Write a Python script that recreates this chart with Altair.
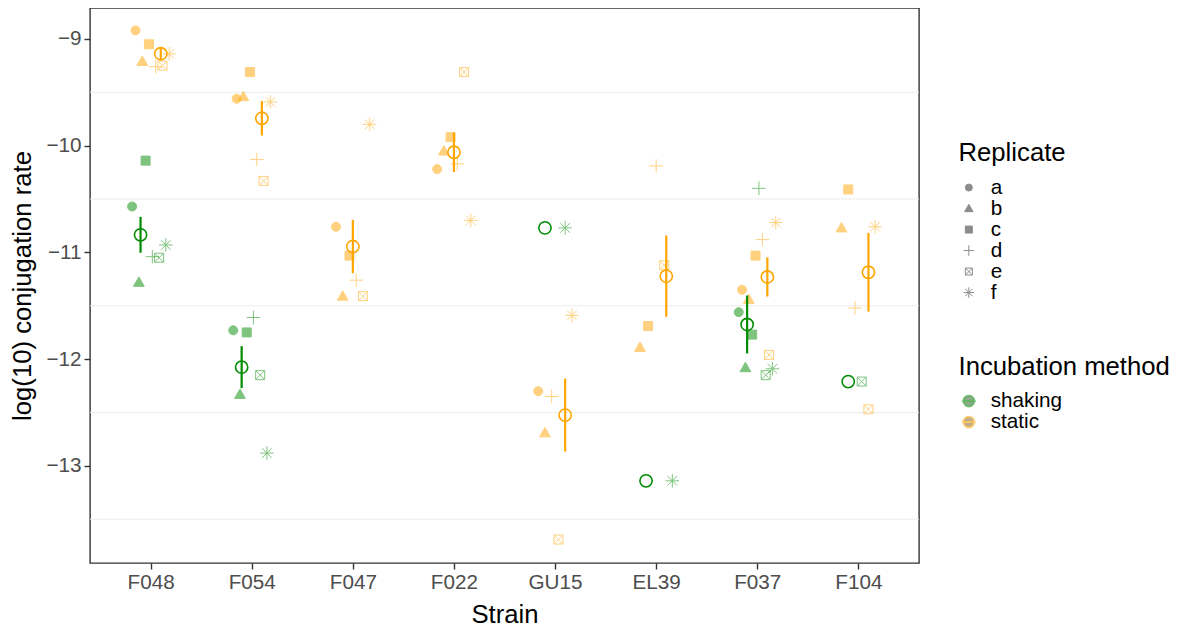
import altair as alt
import numpy as np
import pandas as pd

strains = ["F048", "F054", "F047", "F022", "GU15", "EL39", "F037", "F104"]
replicates = ["a", "b", "c", "d", "e", "f"]
methods = ["shaking", "static"]

# log10 conjugation rate per replicate, aligned with `strains` (None = no value)
shaking_a = [-10.57, -11.73, None, None, None, None, -11.56, None]
shaking_b = [-11.28, -12.33, None, None, None, None, -12.08, None]
shaking_c = [-10.14, -11.75, None, None, None, None, -11.77, None]
shaking_d = [-11.04, -11.61, None, None, None, None, -10.40, None]
shaking_e = [-11.05, -12.15, None, None, None, None, -12.15, -12.21]
shaking_f = [-10.93, -12.88, None, None, -10.77, -13.14, -12.09, None]

static_a = [-8.92, -9.56, -10.76, -10.22, -12.30, None, -11.35, None]
static_b = [-9.21, -9.54, -11.41, -10.05, -12.69, -11.89, -11.44, -10.77]
static_c = [-9.05, -9.31, -11.03, -9.92, None, -11.69, -11.03, -10.41]
static_d = [-9.26, -10.13, -11.26, -10.17, -12.35, -10.19, -10.88, -11.52]
static_e = [-9.25, -10.33, -11.41, -9.31, -13.69, -11.12, -11.96, -12.47]
static_f = [-9.14, -9.59, -9.80, -10.70, -11.59, None, -10.72, -10.76]

y_ticks = [-13, -12, -11, -10, -9]
minor_breaks = [-13.5, -12.5, -11.5, -10.5, -9.5]
y_domain = [-13.91, -8.71]

method_colors = ["#008B00", "#FFA500"]
method_light = ["#80C580", "#FFD280"]

shape_paths = [
    "circle",
    "M0,-1.2L1.2,0.9L-1.2,0.9Z",
    "M-1,-1H1V1H-1Z",
    "M-1.5,0H1.5M0,-1.5V1.5",
    "M-1,-1H1M1,-1V1M1,1H-1M-1,1V-1M-1,-1L1,1M-1,1L1,-1",
    "M-1.5,0H1.5M0,-1.5V1.5M-1.06,-1.06L1.06,1.06M-1.06,1.06L1.06,-1.06",
]

series = {
    "shaking": [shaking_a, shaking_b, shaking_c, shaking_d, shaking_e, shaking_f],
    "static": [static_a, static_b, static_c, static_d, static_e, static_f],
}
col_of = dict(zip(methods, method_colors))

rows = []
for m in methods:
    for r, vals in zip(replicates, series[m]):
        for s, v in zip(strains, vals):
            if v is not None:
                rows.append({"strain": s, "method": m, "replicate": r, "value": v})
df = pd.DataFrame(rows)
df["si"] = df["strain"].map(strains.index)
df["ri"] = df["replicate"].map(replicates.index)
df["mi"] = df["method"].map(methods.index)
df["col"] = df["method"].map(col_of)

DODGE = 0.4


def dodge_offsets(n):
    if n <= 1:
        return np.zeros(n)
    idx = np.arange(1, n + 1)
    return DODGE * ((idx - 0.5) / n - 0.5)


parts = []
for si, g in df.groupby("si"):
    g = g.sort_values(["ri", "mi"]).copy()
    g["xpos"] = si + dodge_offsets(len(g))
    parts.append(g)
pts = pd.concat(parts)

agg = (
    df.groupby(["si", "strain", "method", "mi", "col"])["value"]
    .agg(["mean", "std", "count"])
    .reset_index()
)
agg["se"] = agg["std"] / np.sqrt(agg["count"])
agg["lo"] = agg["mean"] - agg["se"]
agg["hi"] = agg["mean"] + agg["se"]
mparts = []
for si, g in agg.groupby("si"):
    g = g.sort_values("mi").copy()
    g["xm"] = si + dodge_offsets(len(g))
    mparts.append(g)
means = pd.concat(mparts)
errs = means.dropna(subset=["lo", "hi"])

FONT = "Liberation Sans"
label_expr = "[" + ",".join("'%s'" % s for s in strains) + "][datum.value]"

x_scale = alt.Scale(domain=[-0.6, len(strains) - 0.4], nice=False, zero=False)
y_scale = alt.Scale(domain=y_domain, nice=False, zero=False)

x_axis = alt.Axis(
    values=list(range(len(strains))), labelExpr=label_expr, title="Strain",
    grid=False, domain=False, tickSize=6, tickColor="#333333", tickWidth=1.4,
    labelColor="#4D4D4D", labelFontSize=20.7, labelPadding=3,
    titleFontSize=25.7, titleColor="black", titleFontWeight="normal",
    titleBaseline="alphabetic", titleY=59,
)
y_axis = alt.Axis(
    values=y_ticks, title="log(10) conjugation rate", format="d",
    grid=False, domain=False, tickSize=6, tickColor="#333333", tickWidth=1.4,
    labelColor="#4D4D4D", labelFontSize=20.7, labelPadding=3,
    titleFontSize=25.7, titleColor="black", titleFontWeight="normal",
    titleBaseline="alphabetic", titleX=-60,
)

shape_legend = alt.Legend(
    title="Replicate", orient="none", legendX=868.5, legendY=133, padding=0,
    titleFontSize=25.7, titleFontWeight="normal", titleColor="black", titlePadding=10.5,
    labelFontSize=20.7, labelColor="black", labelOffset=11.5,
    symbolSize=49, symbolFillColor="#8C8C8C", symbolStrokeColor="#8C8C8C",
    symbolStrokeWidth=1, symbolOpacity=1, symbolOffset=0, rowPadding=-1.3,
)

glyph = "M-1,0A1,1,0,1,1,1,0A1,1,0,1,1,-1,0ZM-1.25,0L1.25,0"
inc_common = dict(
    title="Incubation method", orient="none", legendX=868.5, legendY=347, padding=0,
    titleFontSize=25.7, titleFontWeight="normal", titleColor="black", titlePadding=10,
    titleLimit=400, labelLimit=300, values=methods,
    labelFontSize=20.7, labelColor="black", labelOffset=11.5,
    symbolType=glyph, symbolSize=121, symbolStrokeWidth=1.8, symbolOpacity=1,
    symbolOffset=0, rowPadding=-1.3,
)
# ring + line (full colour), drawn on top
inc_stroke_legend = alt.Legend(symbolFillColor="transparent", zindex=2, **inc_common)
# translucent fill underneath (its texts are hidden, the ring legend shows them)
inc_fill_legend = alt.Legend(
    symbolStrokeColor="transparent", zindex=1, labelOpacity=0, titleOpacity=0, **inc_common
)

grid = alt.Chart(pd.DataFrame({"v": minor_breaks})).mark_rule(
    color="#EBEBEB", strokeWidth=1.1
).encode(y=alt.Y("v:Q", scale=y_scale, axis=y_axis))

points = alt.Chart(pts).mark_point(filled=True, opacity=0.5, size=81, strokeWidth=1).encode(
    x=alt.X("xpos:Q", scale=x_scale, axis=x_axis),
    y=alt.Y("value:Q", scale=y_scale, axis=y_axis),
    shape=alt.Shape("replicate:N", scale=alt.Scale(domain=replicates, range=shape_paths), legend=shape_legend),
    fill=alt.Fill("col:N", scale=None),
    stroke=alt.Stroke("col:N", scale=None),
)

errbars = alt.Chart(errs).mark_rule(strokeWidth=2.2).encode(
    x=alt.X("xm:Q", scale=x_scale),
    y=alt.Y("lo:Q", scale=y_scale),
    y2="hi:Q",
    stroke=alt.Stroke("col:N", scale=None),
)

mean_pts = alt.Chart(means).mark_point(shape="circle", filled=False, size=150, strokeWidth=1.6, opacity=1).encode(
    x=alt.X("xm:Q", scale=x_scale),
    y=alt.Y("mean:Q", scale=y_scale),
    stroke=alt.Stroke("col:N", scale=None),
)

legend_layer = alt.Chart(pd.DataFrame({"method": methods})).transform_filter("false").mark_point(
    filled=True, opacity=1, strokeWidth=1.8
).encode(
    fill=alt.Fill(
        "method:N",
        scale=alt.Scale(domain=methods[::-1], range=method_light[::-1]),
        legend=inc_fill_legend,
    ),
    stroke=alt.Stroke(
        "method:N",
        scale=alt.Scale(domain=methods, range=method_colors),
        legend=inc_stroke_legend,
    ),
)

chart = (
    alt.layer(grid, points, errbars, mean_pts, legend_layer)
    .properties(
        width=829, height=555,
        autosize=alt.AutoSizeParams(type="none"),
        padding={"left": 82, "top": 0, "right": 257, "bottom": 65},
        background="white",
    )
    .configure_view(stroke="#333333", strokeWidth=1.4)
    .configure_axis(labelFont=FONT, titleFont=FONT)
    .configure_legend(labelFont=FONT, titleFont=FONT)
)

chart.save("out.html", embed_options={"renderer": "svg", "actions": False})
